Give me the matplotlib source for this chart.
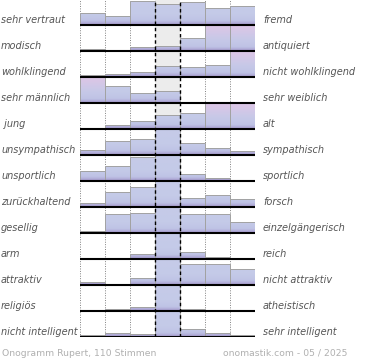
import numpy as np
import matplotlib
matplotlib.use("Agg")
import matplotlib.pyplot as plt
from matplotlib.colors import LinearSegmentedColormap
from matplotlib.patches import Rectangle
import matplotlib.transforms as mtransforms

# ---- data (percent of votes per scale step) ----
left_labels = ["sehr vertraut", "modisch", "wohlklingend", "sehr männlich", " jung",
               "unsympathisch", "unsportlich", "zurückhaltend", "gesellig", "arm",
               "attraktiv", "religiös", "nicht intelligent"]
right_labels = ["fremd", "antiquiert", "nicht wohlklingend", "sehr weiblich", "alt",
                "sympathisch", "sportlich", "forsch", "einzelgängerisch", "reich",
                "nicht attraktiv", "atheistisch", "sehr intelligent"]
values = [
    [9.6, 7.5, 18.9, 16.4, 18.3, 13.8, 15.5],
    [1.5, 0.0, 2.9, 3.8, 10.1, 40.0, 41.7],
    [1.3, 2.7, 3.8, 8.8, 8.2, 9.7, 65.5],
    [67.0, 13.8, 8.2, 9.9, 1.1, 0.0, 0.0],
    [0.0, 2.9, 6.1, 11.1, 12.4, 33.6, 33.9],
    [3.8, 10.9, 12.4, 54.8, 9.4, 5.7, 2.9],
    [8.2, 11.7, 18.9, 52.4, 5.5, 2.1, 1.0],
    [2.9, 12.2, 15.7, 46.6, 6.9, 9.6, 6.1],
    [1.5, 15.1, 15.9, 28.6, 15.1, 15.1, 8.6],
    [0.0, 1.0, 4.2, 88.0, 5.4, 1.3, 0.0],
    [2.1, 0.0, 5.5, 45.5, 17.0, 17.0, 12.8],
    [0.0, 1.5, 2.9, 92.7, 1.9, 1.0, 0.0],
    [1.3, 3.4, 2.3, 81.4, 6.7, 2.9, 1.9],
]
footer_left = "Onogramm Rupert, 110 Stimmen"
footer_right = "onomastik.com - 05 / 2025"

SCALE = 20.7          # percent that fills one row
n_rows = len(values)
n_cols = len(values[0])
center = n_cols // 2

W, H = 370, 360
fig = plt.figure(figsize=(W / 100, H / 100), dpi=100)
fig.patch.set_facecolor("white")
ax_left, ax_right = 80 / W, 255 / W
ax_top_px, ax_bot_px = -1, 337
ax = fig.add_axes([ax_left, (H - ax_bot_px) / H, ax_right - ax_left, (ax_bot_px - ax_top_px) / H])
ax.set_xlim(0, n_cols)
ax.set_ylim(n_rows, 0)
ax.axis("off")

cmap_normal = LinearSegmentedColormap.from_list(
    "n", [(0.0, "#a69ace"), (0.16, "#bfc3e5"), (0.4, "#c4cae8"), (1.0, "#c6cbe8")])
cmap_over = LinearSegmentedColormap.from_list(
    "o", [(0.0, "#a69ace"), (0.16, "#bfc3e5"), (0.45, "#c7c9e8"), (1.0, "#dec6e6")])
grad = np.linspace(1, 0, 64).reshape(-1, 1)

# center band
ax.axvspan(center, center + 1, color="#ececec", zorder=0, lw=0)
# dotted grid
for xg in range(n_cols + 1):
    if xg in (center, center + 1):
        continue
    ax.axvline(xg, color="#808080", lw=0.7, ls=(0, (1, 1.5)), zorder=1)

for i, row in enumerate(values):
    for j, v in enumerate(row):
        if v <= 0:
            continue
        h = min(v / SCALE, 1.0)
        over = v > SCALE and j != center
        rect = Rectangle((j, i + 1 - h), 1, h, transform=ax.transData, fill=False,
                         edgecolor="#a2a2a2", lw=0.7, zorder=3)
        im = ax.imshow(grad, cmap=cmap_over if over else cmap_normal, vmin=0, vmax=1,
                       extent=(j, j + 1, i + 1, i), aspect="auto", zorder=2,
                       interpolation="bilinear")
        im.set_clip_path(rect)
        ax.add_patch(rect)
    ax.plot([0, n_cols], [i + 1, i + 1], color="black", lw=1.5, zorder=4,
            solid_capstyle="butt")

for xg in (center, center + 1):
    ax.axvline(xg, color="black", lw=1.0, ls=(0, (2.5, 2)), zorder=5)

ax.set_xlim(0, n_cols)
ax.set_ylim(n_rows, 0)

trans = mtransforms.blended_transform_factory(fig.transFigure, ax.transData)
for i in range(n_rows):
    yl = i + 1 - 0.2
    ax.text(1 / W, yl, left_labels[i], transform=trans, ha="left", va="center",
            fontsize=7, style="italic", color="#555555", clip_on=False)
    ax.text(263 / W, yl, right_labels[i], transform=trans, ha="left", va="center",
            fontsize=7, style="italic", color="#555555", clip_on=False)

fig.text(2 / W, 7 / H, footer_left, ha="left", va="center", fontsize=6.7, color="#b0b0b0")
fig.text(347 / W, 7 / H, footer_right, ha="right", va="center", fontsize=6.7, color="#b0b0b0")

fig.savefig("out.png", dpi=100, facecolor="white")
